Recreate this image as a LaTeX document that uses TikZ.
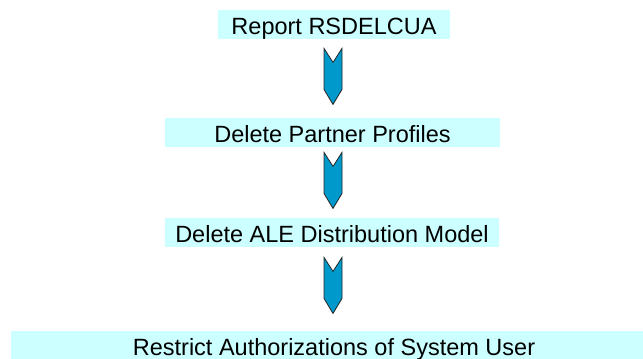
\documentclass[tikz,border=0pt]{standalone}
\usepackage{fontspec}
\setmainfont{Liberation Sans}
\usetikzlibrary{calc}
\definecolor{stepfill}{HTML}{CCFFFF}
\definecolor{chevfill}{HTML}{0099CC}
\begin{document}
\begin{tikzpicture}[x=1pt,y=-1pt,
  stepbox/.style={rectangle, fill=stepfill, draw=none, inner sep=0pt,
    minimum height=29pt, text height=24pt, text depth=5pt,
    font=\fontsize{23.5pt}{28pt}\selectfont, anchor=north},
  chevron/.pic={
    \draw[fill=chevfill, draw=black!85, line width=0.8pt, line join=miter]
      (-9,0) -- (0,14) -- (9,0) -- (9,41) -- (0,56) -- (-9,41) -- cycle;
  }]
\useasboundingbox (0,0) rectangle (643,359);
\clip (0,0) rectangle (643,359);

% process steps
\node[stepbox, minimum width=232pt] (report) at (334,10) {Report RSDELCUA};
\node[stepbox, minimum width=335pt] (partner) at (332.5,118) {Delete Partner Profiles};
\node[stepbox, minimum width=334pt] (ale) at (332,218) {Delete ALE Distribution Model};
\node[stepbox, minimum width=646pt] (restrict) at (334,331) {Restrict Authorizations of System User};

% chevrons between the steps
\pic at ($(report.south)+(-1,9)$) {chevron};
\pic at ($(partner.south)+(0.5,5)$) {chevron};
\pic at ($(ale.south)+(1,10)$) {chevron};
\end{tikzpicture}
\end{document}
